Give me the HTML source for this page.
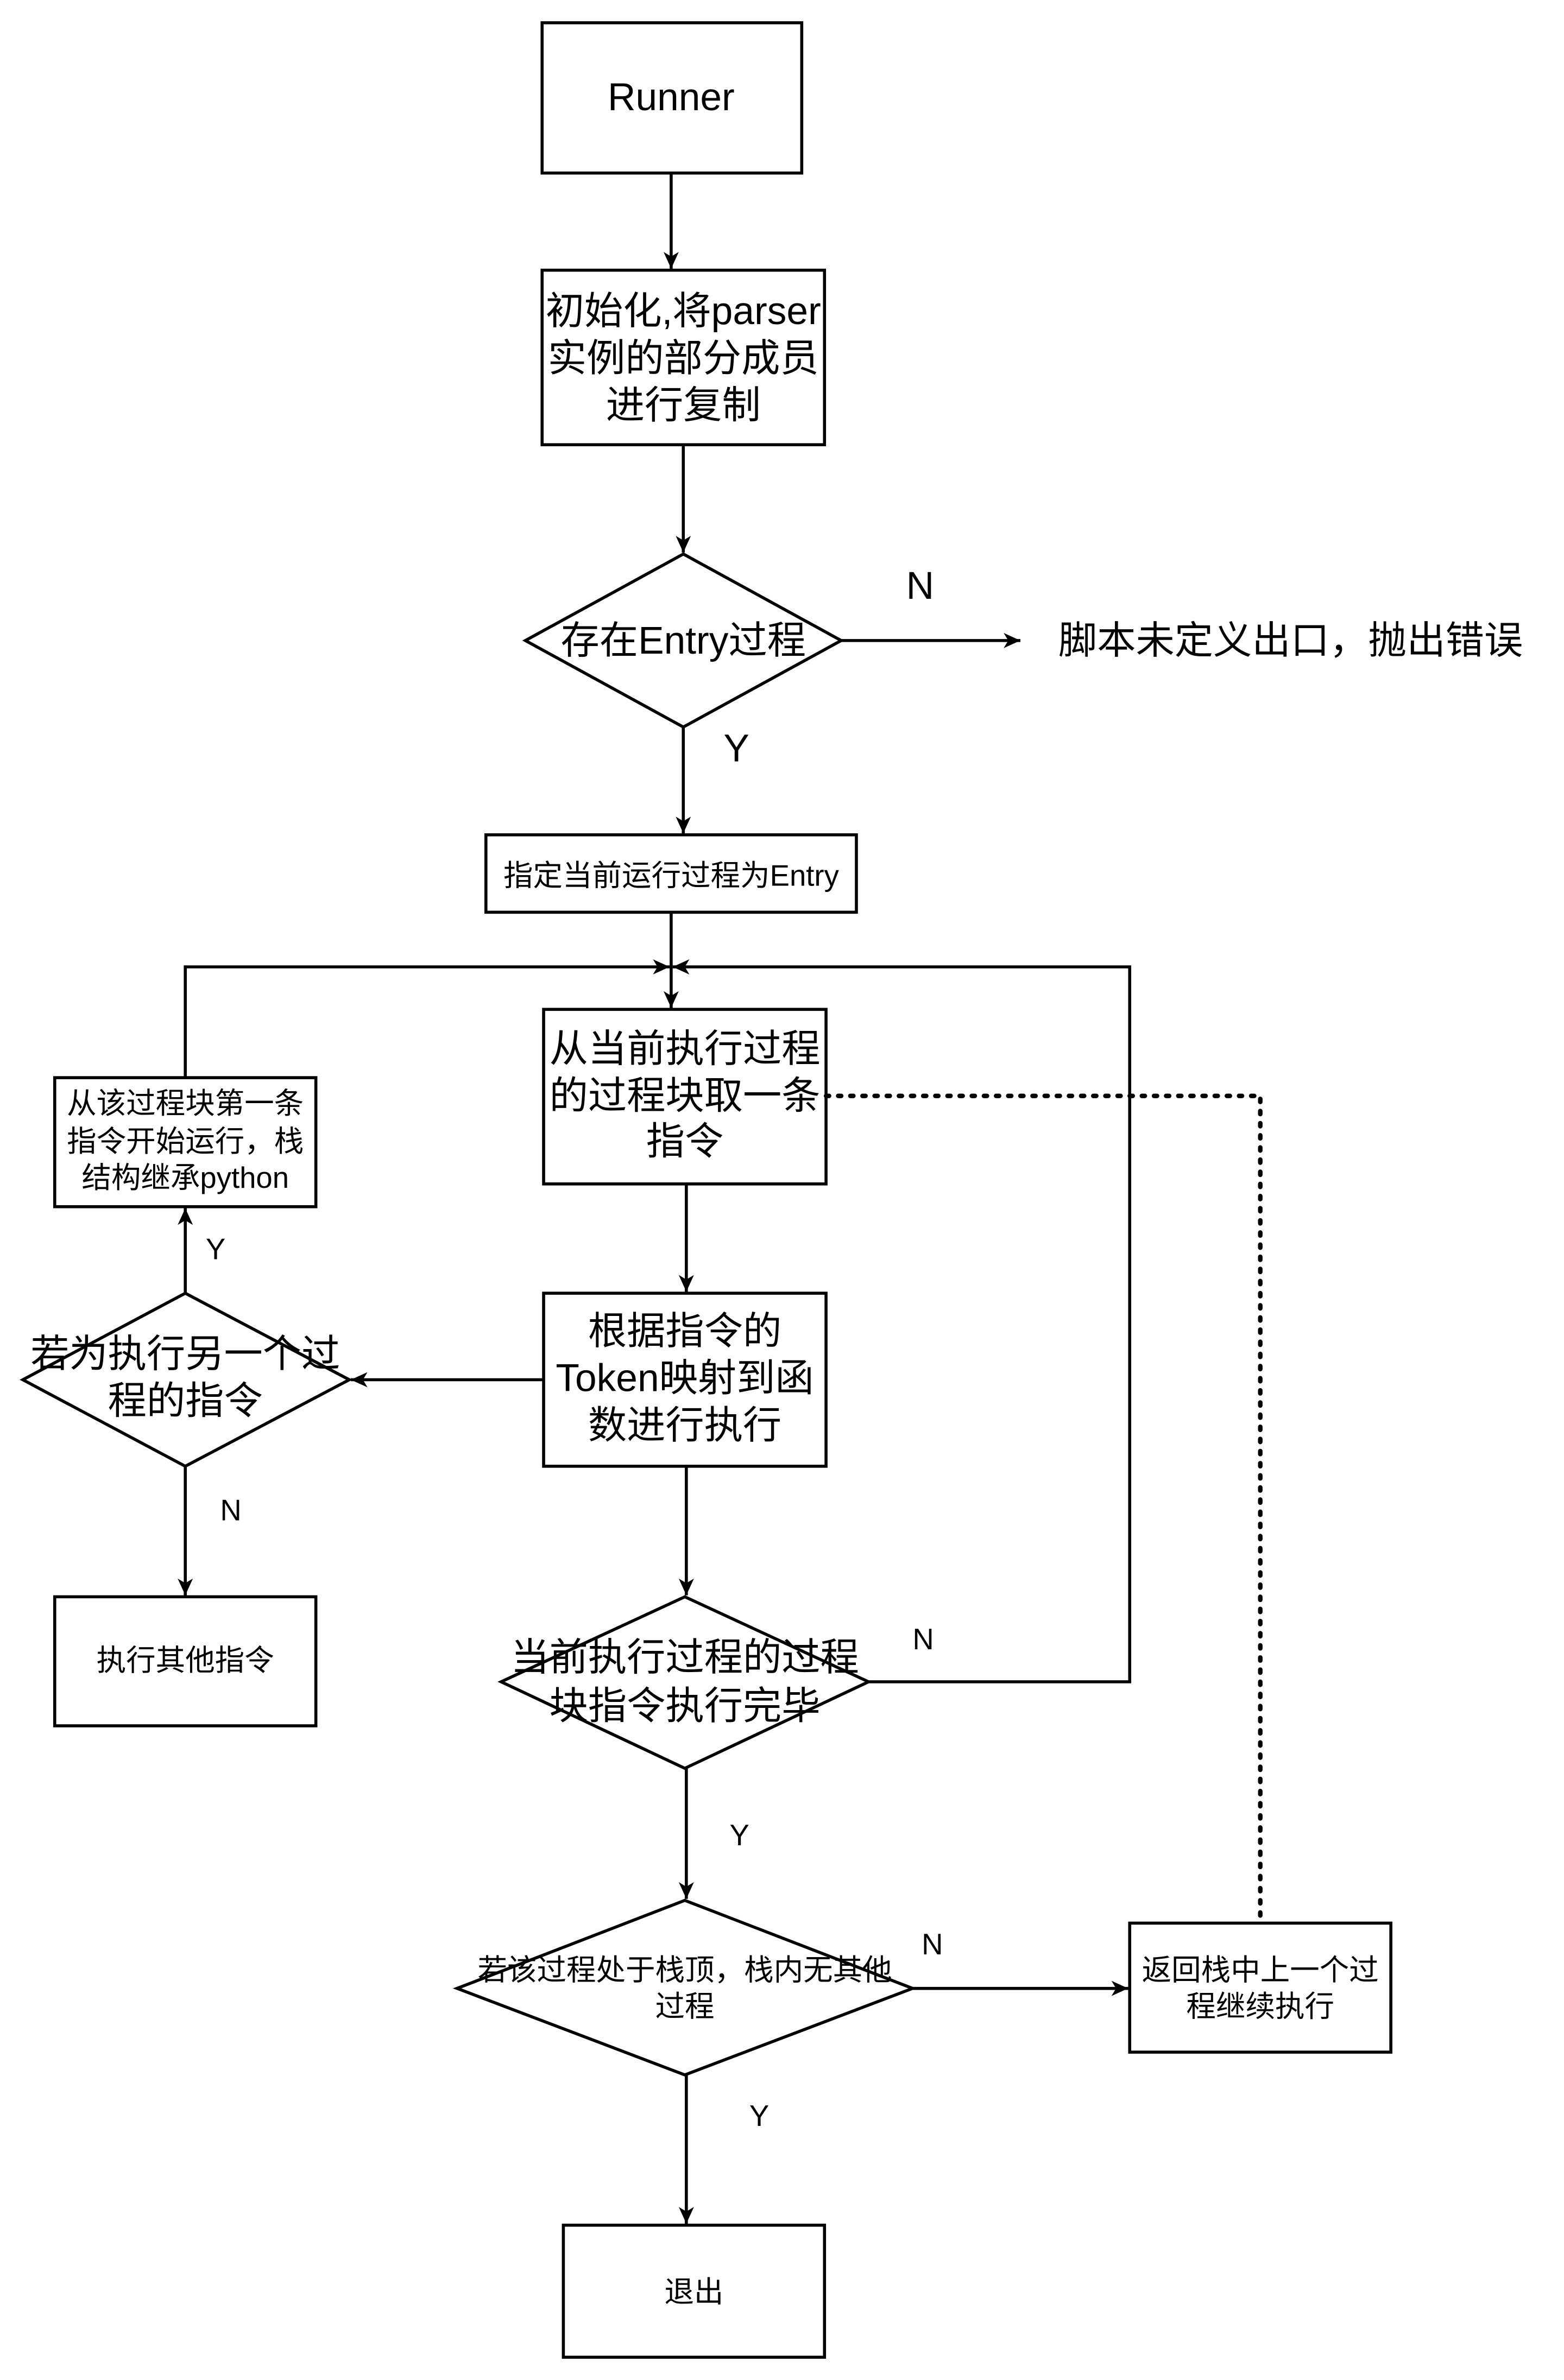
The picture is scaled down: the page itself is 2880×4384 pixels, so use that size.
<!DOCTYPE html>
<html><head><meta charset="utf-8"><style>
html,body{margin:0;padding:0;background:#fff;}
svg{display:block;}
text{font-family:"Liberation Sans","Noto Sans CJK SC",sans-serif;fill:#000;text-anchor:middle;dominant-baseline:central;}
.b{font-size:25.5px;}
.m{font-size:19.5px;}
</style></head><body>
<svg width="2880" height="4384" viewBox="0 0 1030 1568" xmlns="http://www.w3.org/2000/svg">
<defs>
<marker id="a" markerWidth="12" markerHeight="10" refX="11" refY="5" orient="auto" markerUnits="userSpaceOnUse">
<path d="M0,0 L11,5 L0,10 L3,5 Z" fill="#000"/>
</marker>
</defs>
<g fill="none" stroke="#000" stroke-width="2">
<rect x="357" y="15" width="171" height="99" fill="#fff"/>
<rect x="357" y="178" width="186" height="115" fill="#fff"/>
<polygon points="450,365 554,422 450,479 346,422" fill="#fff"/>
<rect x="320" y="550" width="244" height="51" fill="#fff"/>
<rect x="358" y="665" width="186" height="115" fill="#fff"/>
<rect x="36" y="710" width="172" height="85" fill="#fff"/>
<rect x="358" y="852" width="186" height="114" fill="#fff"/>
<polygon points="122,852 230,909 122,966 15,909" fill="#fff"/>
<rect x="36" y="1052" width="172" height="85" fill="#fff"/>
<polygon points="451,1052 572,1108 451,1165 330,1108" fill="#fff"/>
<polygon points="451,1252 601,1310 451,1367 301,1310" fill="#fff"/>
<rect x="744" y="1267" width="172" height="85" fill="#fff"/>
<rect x="371" y="1466" width="172" height="87" fill="#fff"/>

<path d="M442,114 L442,177" marker-end="url(#a)"/>
<path d="M450,293 L450,364" marker-end="url(#a)"/>
<path d="M554,422 L672,422" marker-end="url(#a)"/>
<path d="M450,479 L450,549" marker-end="url(#a)"/>
<path d="M442,601 L442,664" marker-end="url(#a)"/>
<path d="M122,710 L122,637 L441,637" marker-end="url(#a)"/>
<path d="M572,1108 L744,1108 L744,637 L443,637" marker-end="url(#a)"/>
<path d="M452,780 L452,851" marker-end="url(#a)"/>
<path d="M358,909 L231,909" marker-end="url(#a)"/>
<path d="M122,852 L122,796" marker-end="url(#a)"/>
<path d="M122,966 L122,1051" marker-end="url(#a)"/>
<path d="M452,966 L452,1051" marker-end="url(#a)"/>
<path d="M452,1165 L452,1251" marker-end="url(#a)"/>
<path d="M601,1310 L743,1310" marker-end="url(#a)"/>
<path d="M452,1367 L452,1465" marker-end="url(#a)"/>
<path d="M544,722 L830,722 L830,1267" stroke-dasharray="2,6" stroke-width="3" stroke-linecap="round"/>
</g>
<text class="b" x="442" y="64">Runner</text>
<text class="b" x="450" y="205">初始化,将parser</text>
<text class="b" x="450" y="236">实例的部分成员</text>
<text class="b" x="450" y="267">进行复制</text>
<text class="b" x="450" y="422">存在Entry过程</text>
<text class="b" x="606" y="386">N</text>
<text class="b" x="850" y="422">脚本未定义出口，抛出错误</text>
<text class="b" x="485" y="493">Y</text>
<text class="m" x="442" y="577">指定当前运行过程为Entry</text>
<text class="b" x="451" y="691">从当前执行过程</text>
<text class="b" x="451" y="722">的过程块取一条</text>
<text class="b" x="451" y="752">指令</text>
<text class="m" x="122" y="727">从该过程块第一条</text>
<text class="m" x="122" y="752">指令开始运行，栈</text>
<text class="m" x="122" y="776">结构继承python</text>
<text class="m" x="142" y="823">Y</text>
<text class="b" x="122" y="892">若为执行另一个过</text>
<text class="b" x="122" y="923">程的指令</text>
<text class="b" x="451" y="877">根据指令的</text>
<text class="b" x="451" y="908">Token映射到函</text>
<text class="b" x="451" y="939">数进行执行</text>
<text class="m" x="152" y="995">N</text>
<text class="m" x="122" y="1094">执行其他指令</text>
<text class="b" x="451" y="1092">当前执行过程的过程</text>
<text class="b" x="451" y="1124">块指令执行完毕</text>
<text class="m" x="608" y="1080">N</text>
<text class="m" x="487" y="1209">Y</text>
<text class="m" x="451" y="1298">若该过程处于栈顶，栈内无其他</text>
<text class="m" x="451" y="1322">过程</text>
<text class="m" x="614" y="1281">N</text>
<text class="m" x="830" y="1298">返回栈中上一个过</text>
<text class="m" x="830" y="1322">程继续执行</text>
<text class="m" x="500" y="1394">Y</text>
<text class="m" x="457" y="1510">退出</text>
</svg>
</body></html>
